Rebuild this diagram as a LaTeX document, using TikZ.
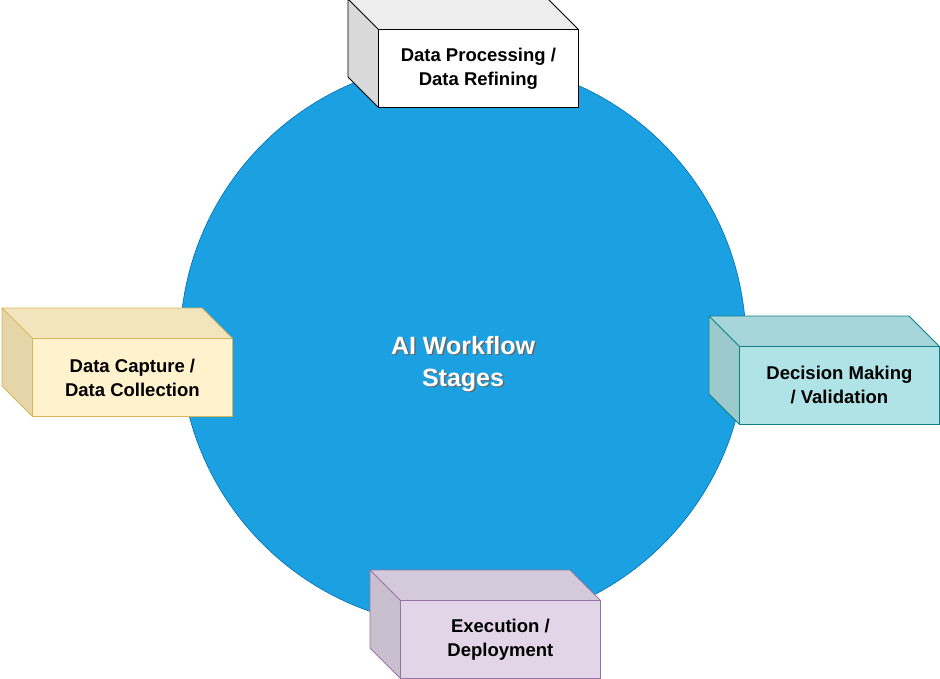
\documentclass[tikz,border=0pt]{standalone}
\usepackage{fontspec}
\setmainfont{Liberation Sans}
\begin{document}
\begin{tikzpicture}[x=1pt,y=-1pt,
  lbl/.style={font=\bfseries\fontsize{18.5}{24}\selectfont,align=center,text=black}]
\useasboundingbox (0,0) rectangle (940,679);
\definecolor{circ}{HTML}{1BA1E2}\definecolor{circd}{HTML}{006EAF}
\definecolor{yf}{HTML}{FFF2CC}\definecolor{yt}{HTML}{F2E4BC}\definecolor{ys}{HTML}{E6D5A8}\definecolor{yd}{HTML}{D6B656}
\definecolor{tf}{HTML}{B0E3E6}\definecolor{tt}{HTML}{A6D6D9}\definecolor{ts}{HTML}{9CC9CC}\definecolor{td}{HTML}{0E8088}
\definecolor{pf}{HTML}{E1D5E7}\definecolor{pt}{HTML}{D5CADB}\definecolor{ps}{HTML}{C9BFCF}\definecolor{pd}{HTML}{9673A6}
\node[circle,minimum size=566pt,fill=circ,draw=circd,line width=0.6pt,inner sep=0] (c) at (463,344) {};
\node[text=black!60,font=\bfseries\fontsize{25}{32}\selectfont,align=center] at (464.5,365.5) {AI Workflow\\Stages};
\node[text=white,font=\bfseries\fontsize{25}{32}\selectfont,align=center] (t) at (463,364) {AI Workflow\\Stages};
\newcommand\mycuboid[8]{%
  \fill[#5] (#2-30,#3-30) -- (#2+200-30,#3-30) -- (#2+200,#3) -- (#2,#3) -- cycle;
  \fill[#6] (#2-30,#3-30) -- (#2,#3) -- (#2,#3+78) -- (#2-30,#3+78-30) -- cycle;
  \draw[#7,line width=0.8pt,line join=round] (#2-30,#3-30) -- (#2+200-30,#3-30) -- (#2+200,#3) (#2-30,#3-30) -- (#2-30,#3+78-30) -- (#2,#3+78) (#2-30,#3-30) -- (#2,#3);
  \node[draw=#7,fill=#4,line width=0.8pt,minimum width=200pt,minimum height=78pt,inner sep=0,anchor=north west,lbl] (#1) at (#2,#3) {#8};}
\mycuboid{proc}{378}{29}{white}{white!93!black}{white!85!black}{black}{Data Processing /\\Data Refining}
\mycuboid{cap}{32}{338}{yf}{yt}{ys}{yd}{Data Capture /\\Data Collection}
\mycuboid{dec}{739}{346}{tf}{tt}{ts}{td}{Decision Making\\/ Validation}
\mycuboid{exe}{400}{600}{pf}{pt}{ps}{pd}{Execution /\\Deployment}
\end{tikzpicture}
\end{document}
